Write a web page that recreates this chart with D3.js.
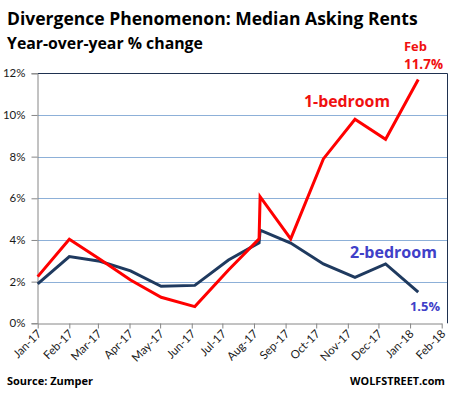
<!DOCTYPE html>
<html><head><meta charset="utf-8">
<script src="https://cdn.jsdelivr.net/npm/d3@7"></script>
<style>
html,body{margin:0;padding:0;background:#fff;}
svg{display:block;font-family:"Open Sans",Lato,sans-serif;}
</style></head>
<body>
<svg id="chart" width="453" height="399"></svg>
<script>
// ---- data ----
const dates = ["2017-01-01","2017-02-01","2017-03-03","2017-04-02","2017-05-02","2017-06-04","2017-07-07","2017-08-06","2017-08-07","2017-09-06","2017-10-08","2017-11-08","2017-12-08","2018-01-09"];
const oneBedroom = [2.24,4.03,3.07,2.08,1.25,0.80,2.56,4.05,6.08,4.05,7.89,9.79,8.83,11.7];
const twoBedroom = [1.89,3.20,2.98,2.52,1.78,1.82,3.04,3.86,4.47,3.85,2.85,2.21,2.85,1.5];
const yTicks = [0,2,4,6,8,10,12];
const xDomain = ["2017-01-01","2018-02-01"];
const titleText = "Divergence Phenomenon: Median Asking Rents";
const subtitleText = "Year-over-year % change";
const sourceText = "Source: Zumper";
const brandText = "WOLFSTREET.com";

const parse = d3.utcParse("%Y-%m-%d");
const svg = d3.select("#chart");

// fit a text element's font-size so its width matches a target
function fit(sel, target){
  sel.style("font-size","20px");
  const w = sel.node().getComputedTextLength();
  sel.style("font-size",(20*target/w).toFixed(2)+"px");
  return sel;
}

const x = d3.scaleUtc().domain(xDomain.map(parse)).range([37.7, 441.7]);
const y = d3.scaleLinear().domain([0,12]).range([323.3, 73.3]);

// gridlines
svg.append("g").selectAll("line").data(yTicks.filter(v=>v>0 && v<12)).join("line")
  .attr("x1",37.7).attr("x2",447.5)
  .attr("y1",d=>Math.round(y(d))+0.5).attr("y2",d=>Math.round(y(d))+0.5)
  .attr("stroke","#8DB0D8").attr("stroke-width",1);

// top & right border
svg.append("path").attr("d",`M37.7,${Math.round(y(12))+0.5}H447.5V${y(0)}`)
  .attr("fill","none").attr("stroke","#1F3150").attr("stroke-width",1);

// y axis
const yAxis = svg.append("g").attr("transform","translate(37.5,0)")
  .call(d3.axisLeft(y).tickValues(yTicks).tickFormat(d=>d+"%").tickSize(6).tickPadding(6));
yAxis.select(".domain").attr("stroke","#868686");
yAxis.selectAll(".tick line").attr("stroke","#868686");
yAxis.selectAll("text").attr("fill","#1a1a1a").style("font-size","11.5px").style("font-family","Lato, sans-serif");

// x axis
const xAxis = svg.append("g").attr("transform",`translate(0,${Math.round(y(0))+0.5})`)
  .call(d3.axisBottom(x).ticks(d3.utcMonth.every(1)).tickFormat(d3.utcFormat("%b-%y")).tickSize(5).tickSizeOuter(0));
xAxis.select(".domain").attr("stroke","#868686");
xAxis.selectAll(".tick line").attr("stroke","#868686");
xAxis.selectAll("text").attr("fill","#1a1a1a").style("font-size","11.5px").style("font-family","Lato, sans-serif")
  .attr("text-anchor","end").attr("dy",null).attr("y",0)
  .attr("transform","translate(4,11) rotate(-45)");

// lines
const pts1 = dates.map((d,i)=>({d:parse(d),v:oneBedroom[i]}));
const pts2 = dates.map((d,i)=>({d:parse(d),v:twoBedroom[i]}));
const line = d3.line().x(p=>x(p.d)).y(p=>y(p.v));
svg.append("path").datum(pts2).attr("d",line).attr("fill","none")
  .attr("stroke","#1F3A5F").attr("stroke-width",3).attr("stroke-linejoin","miter");
svg.append("path").datum(pts1).attr("d",line).attr("fill","none")
  .attr("stroke","#FF0000").attr("stroke-width",3).attr("stroke-linejoin","miter");

// titles
fit(svg.append("text").attr("x",7).attr("y",25).text(titleText)
  .style("font-weight","bold").attr("fill","#000"), 411);
fit(svg.append("text").attr("x",7).attr("y",49).text(subtitleText)
  .style("font-weight","bold").attr("fill","#000"), 196);

// annotations
fit(svg.append("text").attr("x",404).attr("y",51).text("Feb")
  .style("font-weight","bold").attr("fill","#F01010"), 23);
fit(svg.append("text").attr("x",443).attr("y",69).attr("text-anchor","end").text(oneBedroom[oneBedroom.length-1].toFixed(1)+"%")
  .style("font-weight","bold").attr("fill","#F01010"), 39);
fit(svg.append("text").attr("x",304).attr("y",107).text("1-bedroom")
  .style("font-weight","bold").attr("fill","#F01010"), 86);
fit(svg.append("text").attr("x",350).attr("y",258).text("2-bedroom")
  .style("font-weight","bold").attr("fill","#4040C8"), 87);
fit(svg.append("text").attr("x",440).attr("y",311).attr("text-anchor","end").text(twoBedroom[twoBedroom.length-1].toFixed(1)+"%")
  .style("font-weight","bold").attr("fill","#4040C8"), 30);

// footer
fit(svg.append("text").attr("x",7).attr("y",385).text(sourceText)
  .style("font-weight","bold").attr("fill","#000"), 86);
fit(svg.append("text").attr("x",445).attr("y",385).attr("text-anchor","end").text(brandText)
  .style("font-weight","bold").attr("fill","#000"), 95);
</script>
</body></html>
